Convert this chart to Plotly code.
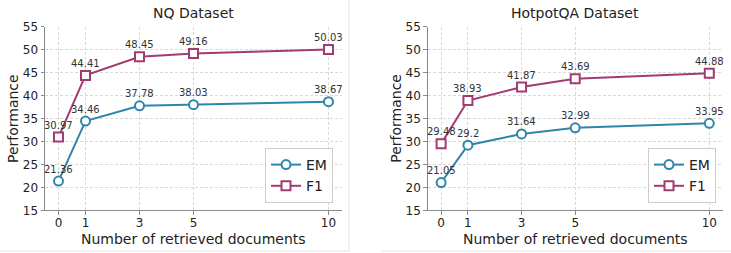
import plotly.graph_objects as go

docs = [0, 1, 3, 5, 10]
tick_labels = ["0", "1", "3", "5", "10"]
nq_em = [21.36, 34.46, 37.78, 38.03, 38.67]
nq_f1 = [30.97, 44.41, 48.45, 49.16, 50.03]
hp_em = [21.05, 29.2, 31.64, 32.99, 33.95]
hp_f1 = [29.48, 38.93, 41.87, 43.69, 44.88]
titles = ["NQ Dataset", "HotpotQA Dataset"]

EM_COLOR = "#2E86AB"
F1_COLOR = "#A23B72"
FONT = "DejaVu Sans"

W, H = 731, 253
fig = go.Figure()

panels = [
    dict(em=nq_em, f1=nq_f1, xa="x", ya="y", legend="legend", dom=[45 / W, 342 / W]),
    dict(em=hp_em, f1=hp_f1, xa="x2", ya="y2", legend="legend2", dom=[427.7 / W, 722.7 / W]),
]

ydom = [1 - 210.3 / H, 1 - 26.8 / H]
annotations = []
for i, p in enumerate(panels):
    for name, vals, color, sym in [("EM", p["em"], EM_COLOR, "circle"),
                                   ("F1", p["f1"], F1_COLOR, "square")]:
        fig.add_trace(go.Scatter(
            x=docs, y=vals, mode="lines+markers", name=name,
            line=dict(color=color, width=2),
            marker=dict(symbol=sym, size=9, color="white",
                        line=dict(color=color, width=2)),
            xaxis=p["xa"], yaxis=p["ya"], legend=p["legend"],
        ))
        for xv, yv in zip(docs, vals):
            annotations.append(dict(
                x=xv, y=yv, xref=p["xa"], yref=p["ya"], text=f"{yv:g}",
                xanchor="center", yanchor="middle",
                showarrow=False, yshift=12, font=dict(family=FONT, size=10, color="#333333"),
            ))
    xc = (p["dom"][0] + p["dom"][1]) / 2
    annotations.append(dict(x=xc, y=1 - 12.5 / H, xref="paper", yref="paper",
                            xanchor="center", yanchor="middle",
                            text=titles[i], showarrow=False,
                            font=dict(family=FONT, size=14, color="#222222")))
    annotations.append(dict(x=xc, y=1 - 238.5 / H, xref="paper", yref="paper",
                            xanchor="center", yanchor="middle",
                            text="Number of retrieved documents", showarrow=False,
                            font=dict(family=FONT, size=14, color="#222222")))
    annotations.append(dict(x=p["dom"][0] - 32.5 / W, y=(ydom[0] + ydom[1]) / 2,
                            xref="paper", yref="paper", text="Performance",
                            xanchor="center", yanchor="middle",
                            textangle=-90, showarrow=False,
                            font=dict(family=FONT, size=14, color="#222222")))

axis_common = dict(
    showline=True, linecolor="#8a8a8a", linewidth=1,
    ticks="outside", ticklen=3.5, tickcolor="#8a8a8a", tickwidth=1,
    showgrid=True, gridcolor="#d9d9d9", gridwidth=0.8, griddash="3px,2px",
    zeroline=False, tickfont=dict(family=FONT, size=12, color="#222222"),
    mirror=False, automargin=False,
)

layout_axes = {}
for i, p in enumerate(panels):
    sx = "" if i == 0 else "2"
    layout_axes["xaxis" + sx] = dict(
        axis_common, domain=p["dom"], range=[-0.5, 10.5],
        tickmode="array", tickvals=docs, ticktext=tick_labels,
        anchor="y" + sx, ticklabelstandoff=-2,
    )
    layout_axes["yaxis" + sx] = dict(
        axis_common, domain=ydom, range=[15, 55],
        tickmode="array", tickvals=[15, 20, 25, 30, 35, 40, 45, 50, 55],
        anchor="x" + sx,
    )

legend_common = dict(
    bgcolor="rgba(255,255,255,0.85)", bordercolor="#cccccc", borderwidth=1,
    font=dict(family=FONT, size=14, color="#222222"),
    xanchor="right", yanchor="bottom", tracegroupgap=0,
)

shapes = [
    dict(type="line", xref="paper", yref="paper", x0=349 / W, x1=349 / W, y0=2 / H, y1=1,
         line=dict(color="#e3e3e3", width=1)),
    dict(type="line", xref="paper", yref="paper", x0=0, x1=349 / W, y0=2 / H, y1=2 / H,
         line=dict(color="#e3e3e3", width=1)),
    dict(type="line", xref="paper", yref="paper", x0=382 / W, x1=1, y0=2 / H, y1=2 / H,
         line=dict(color="#e3e3e3", width=1)),
]

fig.update_layout(
    width=W, height=H, autosize=False,
    margin=dict(l=0, r=0, t=0, b=0, pad=0, autoexpand=False),
    plot_bgcolor="white", paper_bgcolor="white",
    font=dict(family=FONT),
    annotations=annotations, shapes=shapes,
    legend=dict(legend_common, x=333 / W, y=1 - 203 / H),
    legend2=dict(legend_common, x=716 / W, y=1 - 203 / H),
    **layout_axes,
)

fig.write_html(
    "out.html",
    config={"displayModeBar": False},
    post_script="document.body.style.margin='0';document.body.style.overflow='hidden';",
)
